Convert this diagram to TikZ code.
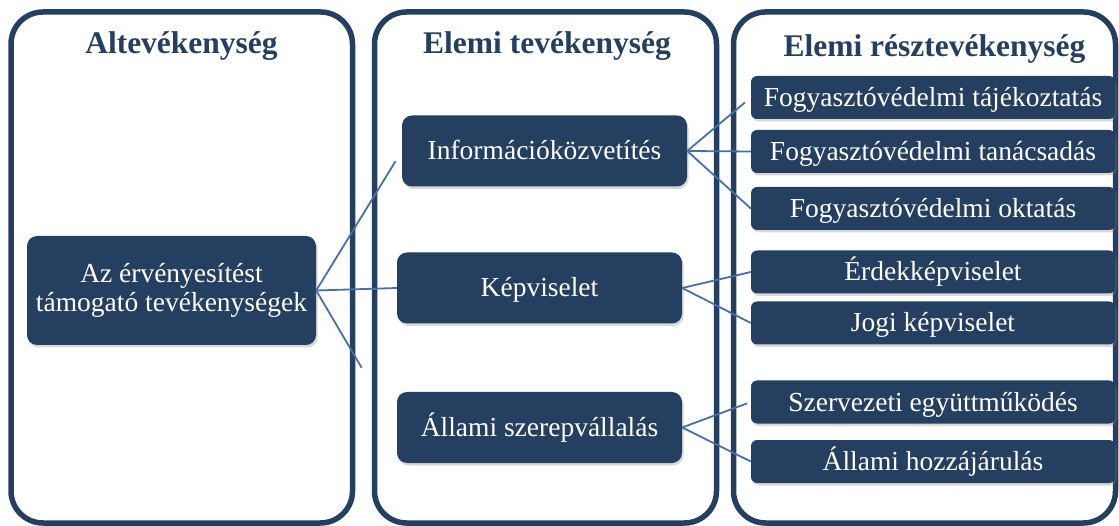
\documentclass[tikz,border=0pt]{standalone}
\usepackage{fontspec}
\setmainfont{Liberation Serif}
\usetikzlibrary{calc,shadows}
\definecolor{navy}{RGB}{37,63,96}
\definecolor{linkblue}{RGB}{70,112,170}
\begin{document}
\begin{tikzpicture}[x=1pt,y=-1pt,
  panel/.style={draw=navy,line width=5.5pt,rounded corners=32pt},
  header/.style={text=navy,font=\fontsize{31.5}{34}\selectfont\bfseries,anchor=base,inner sep=0pt},
  darkbox/.style={fill=navy,text=white,font=\fontsize{27.5}{29.5}\selectfont,inner sep=0pt,align=center,
    drop shadow={opacity=0.3,shadow xshift=1.5pt,shadow yshift=-2.5pt}},
  midbox/.style={darkbox,rounded corners=10pt,minimum width=285pt,minimum height=71pt,text height=20pt,text depth=2pt},
  leafbox/.style={darkbox,rounded corners=6pt,minimum width=364pt,minimum height=43pt,text height=20pt,text depth=2pt},
  conn/.style={draw=linkblue,line width=1.8pt}]
\useasboundingbox (0,0) rectangle (1119,526);
% panels
\draw[panel] (11,12) rectangle (352.5,523);
\draw[panel] (374.5,12) rectangle (716.5,523);
\draw[panel] (733.5,12) rectangle (1115.5,523);
% headers
\node[header] (h1) at (181.5,54) {Altevékenység};
\node[header] (h2) at (547,54) {Elemi tevékenység};
\node[header] (h3) at (934.5,57) {Elemi résztevékenység};
% nodes
\node[darkbox,rounded corners=10pt,minimum width=289pt,minimum height=109pt] (L) at (171.5,290.5) {Az érvényesítést\\támogató tevékenységek};
\node[midbox] (I) at (544.5,151) {Információközvetítés};
\node[midbox] (K) at (539.5,288) {Képviselet};
\node[midbox] (A) at (539.5,427.5) {Állami szerepvállalás};
\node[leafbox] (R1) at (933,97.5) {Fogyasztóvédelmi tájékoztatás};
\node[leafbox] (R2) at (933,151.5) {Fogyasztóvédelmi tanácsadás};
\node[leafbox] (R3) at (933,208.5) {Fogyasztóvédelmi oktatás};
\node[leafbox] (R4) at (933,272) {Érdekképviselet};
\node[leafbox] (R5) at (933,323) {Jogi képviselet};
\node[leafbox] (R6) at (933,402) {Szervezeti együttműködés};
\node[leafbox] (R7) at (933,461.5) {Állami hozzájárulás};
% connectors
\draw[conn] (L.east) -- ($(L.east)!0.927!(I.west)$);
\draw[conn] (L.east) -- (K.west);
\draw[conn] (L.east) -- ($(L.east)!0.564!(A.west)$);
\draw[conn] (I.east) -- ($(I.east)!0.907!(R1.west)$);
\draw[conn] (I.east) -- (R2.west);
\draw[conn] (I.east) -- (R3.west);
\draw[conn] (K.east) -- (R4.west);
\draw[conn] (K.east) -- (R5.west);
\draw[conn] (A.east) -- ($(A.east)!0.947!(R6.west)$);
\draw[conn] (A.east) -- (R7.west);
\end{tikzpicture}
\end{document}
